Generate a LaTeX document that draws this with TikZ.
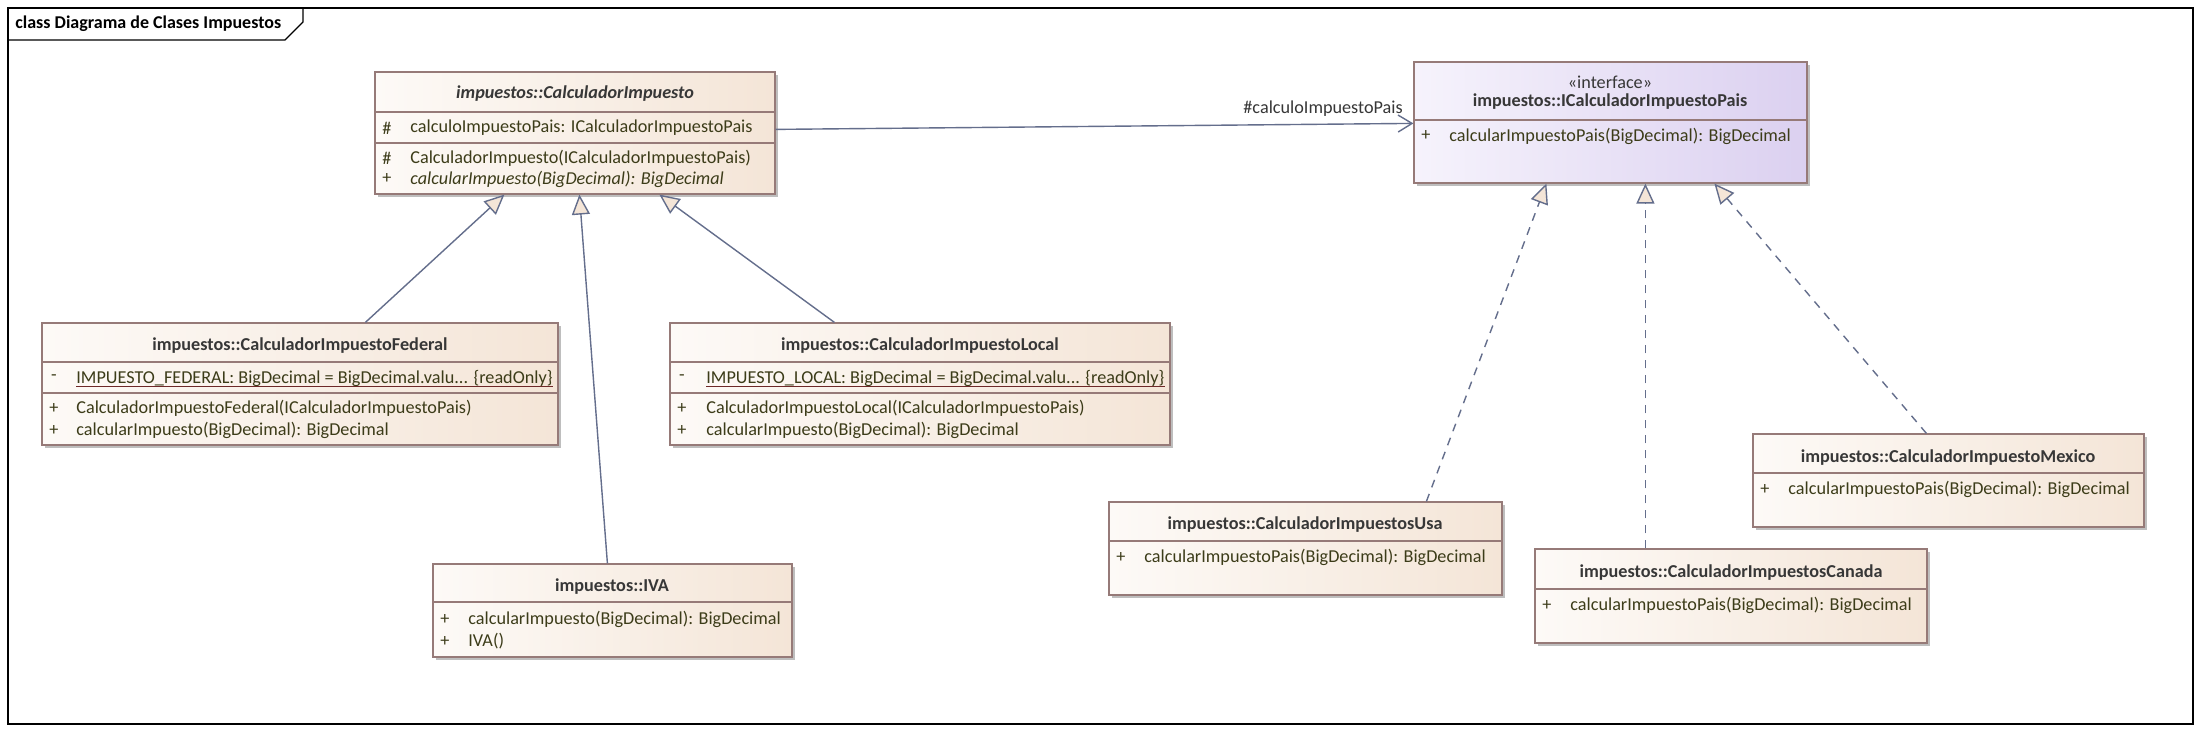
\documentclass[tikz,border=0pt]{standalone}
\usepackage{fontspec}
\setmainfont{Carlito}
\usetikzlibrary{arrows.meta,shadows,fit,calc}

\definecolor{classL}{RGB}{253,250,247}
\definecolor{classR}{RGB}{244,229,215}
\definecolor{ifaceL}{RGB}{246,243,252}
\definecolor{ifaceR}{RGB}{219,208,240}
\definecolor{boxline}{RGB}{150,122,120}
\definecolor{linecol}{RGB}{100,110,140}
\definecolor{membcol}{RGB}{60,60,25}
\definecolor{namecol}{RGB}{55,55,55}
\definecolor{ulcol}{RGB}{110,40,40}
\definecolor{shade}{RGB}{190,190,190}

\begin{document}
\begin{tikzpicture}[x=0.5pt,y=-0.5pt,
  font=\fontsize{9.1}{10}\selectfont,
  class/.style={draw=boxline, line width=0.6pt, left color=classL, right color=classR,
    inner sep=0pt, drop shadow={shadow xshift=1.6pt, shadow yshift=-1.6pt, fill=shade, opacity=1}},
  iface/.style={class, left color=ifaceL, right color=ifaceR},
  cname/.style={font=\fontsize{9.1}{10}\selectfont\bfseries, text=namecol, inner sep=0pt},
  memb/.style={anchor=west, text=membcol, inner sep=0pt},
  vis/.style={text=membcol, inner sep=0pt},
  sep/.style={draw=boxline, line width=0.6pt},
  ul/.style={draw=ulcol, line width=0.5pt},
  gen/.style={draw=linecol, line width=0.7pt, -{Triangle[length=10pt,width=9pt,fill=classR]}},
  real/.style={gen, dash pattern=on 4pt off 3.5pt},
  assoc/.style={draw=linecol, line width=0.7pt, -{Straight Barb[length=7pt,width=8.5pt]}}
]
\useasboundingbox (0,0) rectangle (2201,731);
\fill[white] (0,0) rectangle (2201,731);

% frame
\draw[line width=0.6pt] (8,8) rectangle (2193,724);
\draw[line width=0.6pt] (8,40) -- (285,40) -- (303,22) -- (303,8);
\node[anchor=west, inner sep=0pt, font=\fontsize{9}{10}\selectfont\bfseries] (title) at (15,24) {class Diagrama de Clases Impuestos};

% CalculadorImpuesto
\node[class, fit={(375,72) (775,194)}] (calc) {};
\node[cname] (calc-n) at (575,94) {\textit{impuestos::CalculadorImpuesto}};
\draw[sep] (375,112) -- (775,112);
\node[vis] (calc-v1) at (387,128) {\#};
\node[memb] (calc-a1) at (410,128) {calculoImpuestoPais: ICalculadorImpuestoPais};
\draw[sep] (375,143) -- (775,143);
\node[vis] (calc-v2) at (387,158) {\#};
\node[memb] (calc-m1) at (410,158) {CalculadorImpuesto(ICalculadorImpuestoPais)};
\node[vis] (calc-v3) at (387,179) {+};
\node[memb] (calc-m2) at (410,179) {\itshape calcularImpuesto(BigDecimal): BigDecimal};

% ICalculadorImpuestoPais
\node[iface, fit={(1414,62) (1807,183)}] (pais) {};
\node[cname, font=\fontsize{9.1}{10}\selectfont] (pais-s) at (1610,82) {«interface»};
\node[cname] (pais-n) at (1610,102) {impuestos::ICalculadorImpuestoPais};
\draw[sep] (1414,120) -- (1807,120);
\node[vis] (pais-v1) at (1426,136) {+};
\node[memb] (pais-m1) at (1449,136) {calcularImpuestoPais(BigDecimal): BigDecimal};

% CalculadorImpuestoFederal
\node[class, fit={(42,323) (558,445)}] (fed) {};
\node[cname] (fed-n) at (300,346) {impuestos::CalculadorImpuestoFederal};
\draw[sep] (42,362) -- (558,362);
\node[vis] (fed-v1) at (54,378) {-};
\node[memb] (fed-a1) at (76,378) {IMPUESTO\_FEDERAL: BigDecimal = BigDecimal.valu... \{readOnly\}};
\draw[ul] ([yshift=-1.6pt]fed-a1.base west) -- ([yshift=-1.6pt]fed-a1.base east);
\draw[sep] (42,393) -- (558,393);
\node[vis] (fed-v2) at (54,408) {+};
\node[memb] (fed-m1) at (76,408) {CalculadorImpuestoFederal(ICalculadorImpuestoPais)};
\node[vis] (fed-v3) at (54,430) {+};
\node[memb] (fed-m2) at (76,430) {calcularImpuesto(BigDecimal): BigDecimal};

% CalculadorImpuestoLocal
\node[class, fit={(670,323) (1170,445)}] (loc) {};
\node[cname] (loc-n) at (920,346) {impuestos::CalculadorImpuestoLocal};
\draw[sep] (670,362) -- (1170,362);
\node[vis] (loc-v1) at (682,378) {-};
\node[memb] (loc-a1) at (706,378) {IMPUESTO\_LOCAL: BigDecimal = BigDecimal.valu... \{readOnly\}};
\draw[ul] ([yshift=-1.6pt]loc-a1.base west) -- ([yshift=-1.6pt]loc-a1.base east);
\draw[sep] (670,393) -- (1170,393);
\node[vis] (loc-v2) at (682,408) {+};
\node[memb] (loc-m1) at (706,408) {CalculadorImpuestoLocal(ICalculadorImpuestoPais)};
\node[vis] (loc-v3) at (682,430) {+};
\node[memb] (loc-m2) at (706,430) {calcularImpuesto(BigDecimal): BigDecimal};

% IVA
\node[class, fit={(433,564) (792,657)}] (iva) {};
\node[cname] (iva-n) at (612,587) {impuestos::IVA};
\draw[sep] (433,602) -- (792,602);
\node[vis] (iva-v1) at (445,619) {+};
\node[memb] (iva-m1) at (468,619) {calcularImpuesto(BigDecimal): BigDecimal};
\node[vis] (iva-v2) at (445,641) {+};
\node[memb] (iva-m2) at (468,641) {IVA()};

% CalculadorImpuestosUsa
\node[class, fit={(1109,502) (1502,595)}] (usa) {};
\node[cname] (usa-n) at (1305,525) {impuestos::CalculadorImpuestosUsa};
\draw[sep] (1109,541) -- (1502,541);
\node[vis] (usa-v1) at (1121,557) {+};
\node[memb] (usa-m1) at (1144,557) {calcularImpuestoPais(BigDecimal): BigDecimal};

% CalculadorImpuestosCanada
\node[class, fit={(1535,549) (1927,643)}] (can) {};
\node[cname] (can-n) at (1731,573) {impuestos::CalculadorImpuestosCanada};
\draw[sep] (1535,589) -- (1927,589);
\node[vis] (can-v1) at (1547,605) {+};
\node[memb] (can-m1) at (1570,605) {calcularImpuestoPais(BigDecimal): BigDecimal};

% CalculadorImpuestoMexico
\node[class, fit={(1753,434) (2144,527)}] (mex) {};
\node[cname] (mex-n) at (1948,458) {impuestos::CalculadorImpuestoMexico};
\draw[sep] (1753,473) -- (2144,473);
\node[vis] (mex-v1) at (1765,489) {+};
\node[memb] (mex-m1) at (1788,489) {calcularImpuestoPais(BigDecimal): BigDecimal};

% relations
\draw[assoc] ($(calc.north east)+(0,58)$) -- ($(pais.north west)+(0,62)$)
  node[pos=1, anchor=base east, inner sep=0pt, xshift=-5pt, yshift=5pt, text=namecol] (assoc-l) {\#calculoImpuestoPais};
\draw[gen] ($(fed.north west)+(324,0)$) -- ($(calc.south west)+(130,0)$);
\draw[gen] ($(iva.north west)+(175,0)$) -- ($(calc.south west)+(205,0)$);
\draw[gen] ($(loc.north west)+(165,0)$) -- ($(calc.south west)+(285,0)$);
\draw[real] ($(usa.north west)+(318,0)$) -- ($(pais.south west)+(133,0)$);
\draw[real] ($(can.north west)+(111,0)$) -- ($(pais.south west)+(232,0)$);
\draw[real] ($(mex.north west)+(174,0)$) -- ($(pais.south west)+(301,0)$);
\end{tikzpicture}
\end{document}
